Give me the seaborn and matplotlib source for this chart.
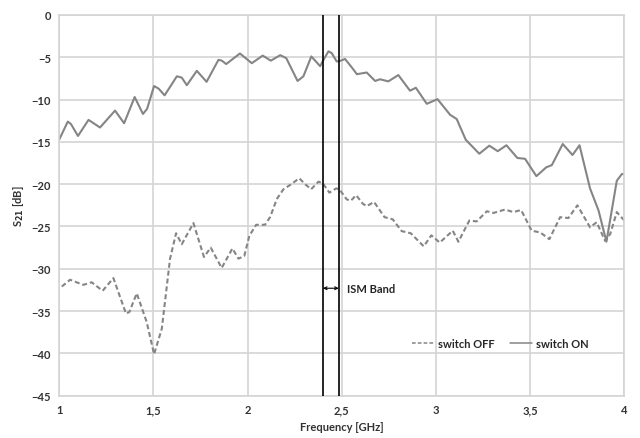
import matplotlib
matplotlib.use("Agg")
import matplotlib.pyplot as plt
import seaborn as sns
import pandas as pd

# ---- data ----
x_on = [1.0, 1.045, 1.062, 1.099, 1.155, 1.216, 1.296, 1.344, 1.40, 1.444, 1.466, 1.503, 1.527, 1.559,
        1.624, 1.65, 1.677, 1.730, 1.782, 1.845, 1.863, 1.886, 1.959, 2.022, 2.08, 2.123, 2.173, 2.205,
        2.265, 2.296, 2.338, 2.385, 2.40, 2.429, 2.446, 2.473, 2.494, 2.517, 2.553, 2.58, 2.632, 2.677,
        2.703, 2.747, 2.80, 2.862, 2.893, 2.951, 3.008, 3.075, 3.11, 3.158, 3.23, 3.283, 3.328, 3.374,
        3.432, 3.473, 3.533, 3.586, 3.615, 3.673, 3.725, 3.762, 3.818, 3.863, 3.905, 3.96, 3.987, 4.0]
y_on = [-14.7, -12.6, -12.9, -14.3, -12.4, -13.3, -11.3, -12.8, -9.7, -11.7, -11.1, -8.4, -8.7, -9.5,
        -7.25, -7.4, -8.3, -6.6, -7.9, -5.3, -5.4, -5.8, -4.55, -5.7, -4.8, -5.4, -4.75, -5.1,
        -7.8, -7.25, -4.9, -6.05, -5.4, -4.3, -4.5, -5.5, -5.4, -5.2, -6.2, -7.0, -6.8, -7.8,
        -7.6, -7.85, -7.1, -8.95, -8.6, -10.5, -9.95, -11.8, -12.3, -14.75, -16.4, -15.45, -16.1, -15.4,
        -16.9, -17.0, -19.05, -18.0, -17.75, -15.25, -16.55, -15.4, -20.5, -23.1, -26.8, -19.6, -18.8, -18.8]

x_off = [1.013, 1.057, 1.127, 1.172, 1.23, 1.287, 1.354, 1.372, 1.411, 1.464, 1.503, 1.544, 1.588, 1.62,
         1.65, 1.712, 1.768, 1.804, 1.862, 1.919, 1.951, 1.982, 2.009, 2.045, 2.092, 2.119, 2.155, 2.19,
         2.225, 2.274, 2.305, 2.337, 2.376, 2.399, 2.434, 2.47, 2.487, 2.526, 2.548, 2.576, 2.611, 2.632,
         2.671, 2.727, 2.77, 2.818, 2.866, 2.935, 2.975, 3.02, 3.089, 3.119, 3.177, 3.216, 3.27, 3.305,
         3.367, 3.411, 3.452, 3.508, 3.553, 3.602, 3.659, 3.703, 3.751, 3.818, 3.853, 3.898, 3.925, 3.96, 4.0]
y_off = [-32.1, -31.3, -31.9, -31.6, -32.6, -31.1, -35.3, -35.1, -32.9, -36.3, -40.1, -37.1, -28.8, -25.8,
         -27.1, -24.6, -28.6, -27.5, -29.9, -27.6, -28.8, -28.5, -26.1, -24.8, -24.8, -23.9, -21.75, -20.6,
         -20.1, -19.3, -20.0, -20.6, -19.7, -19.9, -21.0, -20.5, -20.6, -21.8, -21.95, -21.3, -22.3, -22.6,
         -22.1, -23.9, -24.15, -25.55, -25.8, -27.35, -26.05, -26.9, -25.5, -26.8, -24.3, -24.4, -23.2, -23.4,
         -23.0, -23.3, -23.05, -25.5, -25.7, -26.5, -23.9, -24.0, -22.5, -25.1, -24.5, -26.7, -25.9, -23.3, -24.3]

ism_band = [2.4, 2.4835]
x_ticks = [1, 1.5, 2, 2.5, 3, 3.5, 4]
x_tick_labels = ["1", "1,5", "2", "2,5", "3", "3,5", "4"]
y_ticks = [0, -5, -10, -15, -20, -25, -30, -35, -40, -45]

sns.set_theme(style="white")
plt.rcParams['font.family'] = ['Lato', 'DejaVu Sans']

fig = plt.figure(figsize=(6.4, 4.39), dpi=100)
ax = fig.add_axes([0.0927, 0.0964, 0.8828, 0.8672])

line_col = "#858585"
df_off = pd.DataFrame({"f": x_off, "s": y_off})
df_on = pd.DataFrame({"f": x_on, "s": y_on})
sns.lineplot(data=df_off, x="f", y="s", ax=ax, color=line_col, lw=1.5,
             label="switch OFF", dashes=False)
ax.lines[-1].set_dashes((2.4, 1.4))
sns.lineplot(data=df_on, x="f", y="s", ax=ax, color=line_col, lw=1.5, label="switch ON")
for ln in ax.lines:
    ln.set_solid_joinstyle("round")
    ln.set_dash_joinstyle("round")

for xv in ism_band:
    ax.axvline(xv, color="black", lw=1.2, zorder=3)

ax.annotate("", xy=(ism_band[0], -32.3), xytext=(ism_band[1], -32.3),
            arrowprops=dict(arrowstyle="<->", color="black", lw=0.8,
                            shrinkA=0, shrinkB=0, mutation_scale=5))
ax.text(2.525, -32.3, "ISM Band", fontsize=8, fontweight="bold", color="#262626",
        va="center", ha="left")

ax.set_xlim(1, 4)
ax.set_ylim(-45, 0)
ax.set_xticks(x_ticks)
ax.set_xticklabels(x_tick_labels)
ax.set_yticks(y_ticks)
ax.grid(True, color="#d4d4d4", lw=1.2)
ax.set_axisbelow(True)
for sp in ax.spines.values():
    sp.set_color("#d4d4d4")
    sp.set_linewidth(1.2)
ax.tick_params(axis="both", length=0, labelsize=8, labelcolor="#333333", pad=6)
for lab in ax.get_xticklabels() + ax.get_yticklabels():
    lab.set_fontweight("bold")

ax.set_xlabel("Frequency [GHz]", fontsize=8, fontweight="bold", color="#333333", labelpad=4)
ax.set_ylabel("S$_{\\mathbf{21}}$ [dB]", fontsize=8, fontweight="bold", color="#333333", labelpad=4)

leg = ax.legend(loc="center left", bbox_to_anchor=(0.607, 0.137), ncol=2, frameon=False,
                handlelength=2.0, handletextpad=0.3, columnspacing=1.4,
                prop={"weight": "bold", "size": 8})
for t in leg.get_texts():
    t.set_color("#262626")
for h in leg.get_lines():
    h.set_linewidth(1.1)

fig.savefig("out.png", dpi=100)
